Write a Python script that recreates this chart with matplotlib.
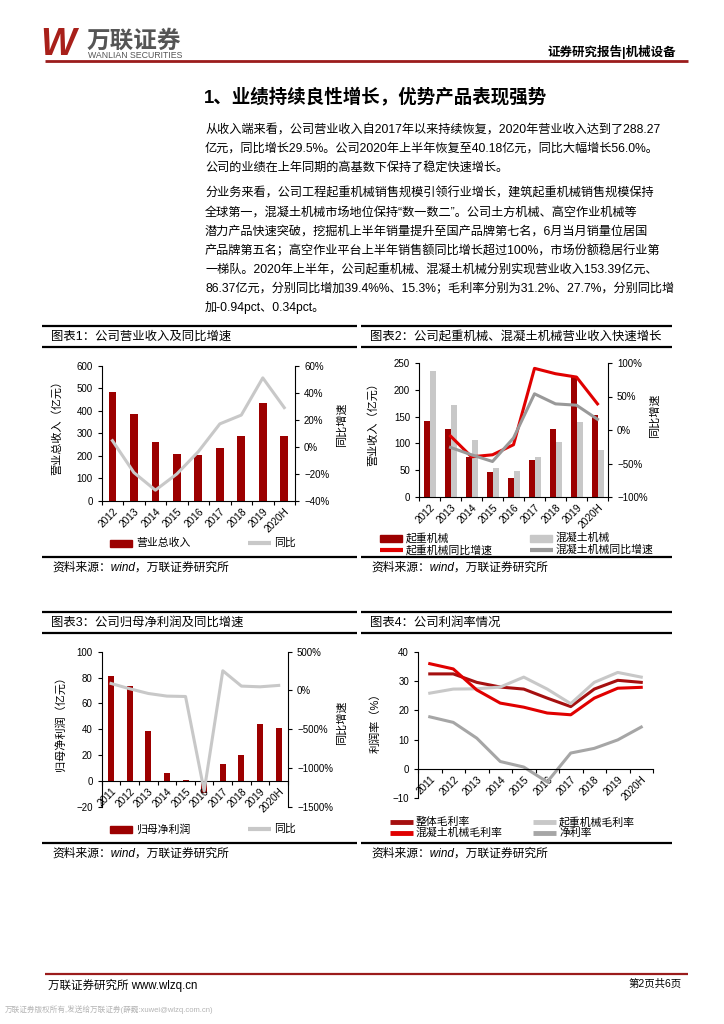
import numpy as np
import matplotlib
matplotlib.use('Agg')
import matplotlib.pyplot as plt
from matplotlib.lines import Line2D
from matplotlib.patches import Rectangle
from matplotlib.ticker import FuncFormatter

plt.rcParams['font.family'] = ['Liberation Sans', 'Noto Sans CJK SC', 'DejaVu Sans']

# ********** data *********************
years_a = ['2012', '2013', '2014', '2015', '2016', '2017', '2018', '2019', '2020H']
revenue = [484, 385, 260, 208, 202, 235, 287, 434, 288]
revenue_yoy = [4.6, -19, -32, -20, -3.5, 17, 23.5, 51, 29]

crane_rev = [142, 126, 75, 46, 36, 69, 126, 224, 153]
concrete_rev = [236, 172, 106, 55, 49, 74, 102, 139, 87]
crane_yoy = [np.nan, -9, -40, -37, -22, 92, 84, 79, 39]
concrete_yoy = [np.nan, -26, -37, -47, -12, 54, 39, 37, 16]

years_b = ['2011', '2012', '2013', '2014', '2015', '2016', '2017', '2018', '2019', '2020H']
net_profit = [81, 73.4, 38.6, 5.8, 0.9, -9.2, 13.3, 20.3, 44, 40.6]
net_profit_yoy = [90, 22, -39, -73, -78, -1297, 254, 56, 47, 65]

gross_margin = [32.5, 32.5, 29.6, 28, 27.3, 24.2, 21.3, 27.3, 30.3, 29.6]
crane_margin = [25.9, 27.3, 27.4, 28, 31.4, 27.3, 22.3, 29.6, 33, 31.4]
concrete_margin = [36, 34.2, 27, 22.5, 21.1, 19.1, 18.5, 24.2, 27.6, 27.9]
net_margin = [17.8, 15.9, 10.5, 2.5, 0.6, -4.5, 5.4, 7, 9.9, 14.3]

para1 = [
    '从收入端来看，公司营业收入自2017年以来持续恢复，2020年营业收入达到了288.27',
    '亿元，同比增长29.5%。公司2020年上半年恢复至40.18亿元，同比大幅增长56.0%。',
    '公司的业绩在上年同期的高基数下保持了稳定快速增长。',
]
para2 = [
    '分业务来看，公司工程起重机械销售规模引领行业增长，建筑起重机械销售规模保持',
    '全球第一，混凝土机械市场地位保持“数一数二”。公司土方机械、高空作业机械等',
    '潜力产品快速突破，挖掘机上半年销量提升至国产品牌第七名，6月当月销量位居国',
    '产品牌第五名；高空作业平台上半年销售额同比增长超过100%，市场份额稳居行业第',
    '一梯队。2020年上半年，公司起重机械、混凝土机械分别实现营业收入153.39亿元、',
    '86.37亿元，分别同比增加39.4%%、15.3%；毛利率分别为31.2%、27.7%，分别同比增',
    '加-0.94pct、0.34pct。',
]
# ****************************************

W, H = 724, 1024
DARK_RED = '#9c0000'
RED = '#e00000'
LIGHT_GRAY = '#c8c8c8'
MID_GRAY = '#a0a0a0'
HEAD_RED = '#9b1c1c'

fig = plt.figure(figsize=(W / 100, H / 100), dpi=100)


def ftext(x, y, s, **kw):
    kw.setdefault('va', 'center')
    return fig.text(x / W, 1 - y / H, s, **kw)


def hline(x0, x1, y, lw=1.4, color='black'):
    fig.add_artist(Line2D([x0 / W, x1 / W], [1 - y / H, 1 - y / H],
                          transform=fig.transFigure, lw=lw, color=color,
                          solid_capstyle='butt'))


def add_ax(l, t, r, b):
    return fig.add_axes([l / W, 1 - b / H, (r - l) / W, (b - t) / H])


def leg_patch(x, y, color, label):
    fig.add_artist(Rectangle((x / W, 1 - (y + 3.5) / H), 22 / W, 7 / H,
                             transform=fig.transFigure, color=color))
    ftext(x + 26, y, label, fontsize=7.8)


def leg_line(x, y, color, label, lw=3):
    hline(x, x + 23, y, lw=lw, color=color)
    ftext(x + 26, y, label, fontsize=7.8)


def pct_fmt(v, pos):
    return ('%d%%' % round(v)).replace('-', '−')


def num_fmt(v, pos):
    return ('%d' % round(v)).replace('-', '−')


def style_ax(ax, n):
    for s in ['top', 'right']:
        ax.spines[s].set_visible(False)
    for s in ['left', 'bottom']:
        ax.spines[s].set_linewidth(0.8)
    ax.set_xlim(-0.5, n - 0.5)
    ax.set_xticks(np.arange(-0.5, n, 1))
    ax.set_xticklabels([])
    ax.tick_params(axis='both', which='major', direction='out', length=3,
                   width=0.8, labelsize=7)
    ax.yaxis.set_major_formatter(FuncFormatter(num_fmt))


def year_labels(ax, labels):
    n = len(labels)
    ax.set_xticks(np.arange(n), minor=True)
    ax.set_xticklabels(labels, minor=True, rotation=45, ha='right',
                       rotation_mode='anchor', fontsize=7.3)
    ax.tick_params(axis='x', which='minor', length=0, pad=4)


def style_twin(ax):
    for s in ['top', 'left', 'bottom']:
        ax.spines[s].set_visible(False)
    ax.spines['right'].set_linewidth(0.8)
    ax.tick_params(axis='y', direction='out', length=3, width=0.8, labelsize=7)
    ax.yaxis.set_major_formatter(FuncFormatter(pct_fmt))


def panel(x0, x1, top, title, source):
    hline(x0, x1, top, lw=1.6)
    ftext(x0 + 9, top + 11, title, fontsize=8.9)
    hline(x0, x1, top + 21, lw=1.6)
    hline(x0, x1, top + 231, lw=1.6)
    ftext(x0 + 10, top + 242, source, fontsize=8.5, style='italic')


# ---------- header ----------
ftext(40, 45, 'W', fontsize=27, fontweight='bold', style='italic',
      color='#a8201a', ha='left')
ftext(87, 41, '万联证券', fontsize=17, fontweight='bold', color='#555555',
      ha='left')
ftext(88, 56, 'WANLIAN SECURITIES', fontsize=6.3, color='#555555', ha='left')
ftext(676, 52, '证券研究报告|机械设备', fontsize=9, fontweight='bold', ha='right')
hline(45, 688, 61, lw=2, color=HEAD_RED)

ftext(204, 97, '1、业绩持续良性增长，优势产品表现强势', fontsize=13.3,
      fontweight='bold', ha='left')

for i, line in enumerate(para1):
    ftext(205, 130 + i * 18.8, line, fontsize=8.75, ha='left')
for i, line in enumerate(para2):
    ftext(205, 194 + i * 18.9, line, fontsize=8.75, ha='left')

# ---------- chart 1 ----------
panel(42, 357, 326, '图表1：公司营业收入及同比增速', '资料来源：wind，万联证券研究所')
ax1 = add_ax(101.7, 365.7, 295, 501)
x = np.arange(len(years_a))
ax1.bar(x, revenue, width=0.36, color=DARK_RED)
style_ax(ax1, len(years_a))
ax1.set_ylim(0, 600)
ax1.set_yticks(np.arange(0, 601, 100))
year_labels(ax1, years_a)
ax1b = ax1.twinx()
ax1b.plot(x, revenue_yoy, color=LIGHT_GRAY, lw=2.2)
ax1b.set_ylim(-40, 60)
ax1b.set_yticks(np.arange(-40, 61, 20))
style_twin(ax1b)
ftext(57, 425, '营业总收入（亿元）', fontsize=8, rotation=90, ha='center')
ftext(342, 425, '同比增速', fontsize=8, rotation=90, ha='center')
leg_patch(110, 543, DARK_RED, '营业总收入')
leg_line(248, 543, LIGHT_GRAY, '同比')

# ---------- chart 2 ----------
panel(361, 672, 326, '图表2：公司起重机械、混凝土机械营业收入快速增长',
      '资料来源：wind，万联证券研究所')
ax2 = add_ax(419, 363, 608, 497)
x = np.arange(len(years_a))
ax2.bar(x - 0.12, crane_rev, width=0.27, color=DARK_RED)
ax2.bar(x + 0.16, concrete_rev, width=0.27, color=LIGHT_GRAY)
style_ax(ax2, len(years_a))
ax2.set_ylim(0, 250)
ax2.set_yticks(np.arange(0, 251, 50))
year_labels(ax2, years_a)
ax2b = ax2.twinx()
ax2b.plot(x, crane_yoy, color=RED, lw=2.2)
ax2b.plot(x, concrete_yoy, color='#999999', lw=2.2)
ax2b.set_ylim(-100, 100)
ax2b.set_yticks(np.arange(-100, 101, 50))
style_twin(ax2b)
ftext(373, 422, '营业收入（亿元）', fontsize=8, rotation=90, ha='center')
ftext(655, 416, '同比增速', fontsize=8, rotation=90, ha='center')
leg_patch(380, 538, DARK_RED, '起重机械')
leg_patch(530, 538, LIGHT_GRAY, '混凝土机械')
leg_line(380, 550, RED, '起重机械同比增速')
leg_line(530, 550, '#999999', '混凝土机械同比增速')

# ---------- chart 3 ----------
panel(42, 357, 612, '图表3：公司归母净利润及同比增速', '资料来源：wind，万联证券研究所')
ax3 = add_ax(101.7, 651.7, 288, 806.7)
x = np.arange(len(years_b))
ax3.bar(x, net_profit, width=0.32, color=DARK_RED)
style_ax(ax3, len(years_b))
ax3.set_ylim(-20, 100)
ax3.set_yticks(np.arange(-20, 101, 20))
ax3.spines['bottom'].set_position(('data', 0))
year_labels(ax3, years_b)
ax3b = ax3.twinx()
ax3b.plot(x, net_profit_yoy, color=LIGHT_GRAY, lw=2.2)
ax3b.set_ylim(-1500, 500)
ax3b.set_yticks(np.arange(-1500, 501, 500))
style_twin(ax3b)
ftext(60, 721, '归母净利润（亿元）', fontsize=8, rotation=90, ha='center')
ftext(342, 723, '同比增速', fontsize=8, rotation=90, ha='center')
leg_patch(110, 829, DARK_RED, '归母净利润')
leg_line(248, 829, LIGHT_GRAY, '同比')

# ---------- chart 4 ----------
panel(361, 672, 612, '图表4：公司利润率情况', '资料来源：wind，万联证券研究所')
ax4 = add_ax(418, 652, 653, 798)
x = np.arange(len(years_b))
ax4.plot(x, gross_margin, color='#a51010', lw=2.2)
ax4.plot(x, crane_margin, color=LIGHT_GRAY, lw=2.2)
ax4.plot(x, concrete_margin, color=RED, lw=2.2)
ax4.plot(x, net_margin, color='#a6a6a6', lw=2.2)
style_ax(ax4, len(years_b))
ax4.set_ylim(-10, 40)
ax4.set_yticks(np.arange(-10, 41, 10))
ax4.spines['bottom'].set_position(('data', 0))
year_labels(ax4, years_b)
ftext(375, 720, '利润率（%）', fontsize=8, rotation=90, ha='center')
leg_line(390, 822, '#a51010', '整体毛利率', lw=3.5)
leg_line(533, 822, LIGHT_GRAY, '起重机械毛利率', lw=3.5)
leg_line(390, 833, RED, '混凝土机械毛利率', lw=3.5)
leg_line(533, 833, '#a6a6a6', '净利率', lw=3.5)

# ---------- footer ----------
hline(45, 688, 974, lw=1.6, color=HEAD_RED)
ftext(48, 985, '万联证券研究所 www.wlzq.cn', fontsize=8.3, ha='left')
ftext(682, 984, '第2页共6页', fontsize=7.5, ha='right')
ftext(5, 1010, '万联证券版权所有,发送给万联证券(薛巍:xuwei@wlzq.com.cn)',
      fontsize=5.5, color='#b4b4b4', ha='left')

fig.savefig('out.png', dpi=100)
